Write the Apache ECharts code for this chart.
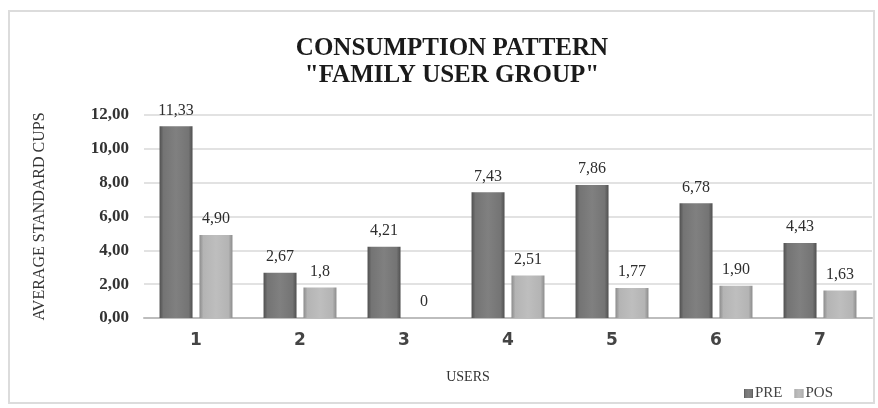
<!DOCTYPE html>
<html>
<head>
<meta charset="utf-8">
<script src="https://cdn.jsdelivr.net/npm/echarts@6/dist/echarts.min.js"></script>
<style>
  html, body { margin: 0; padding: 0; background: #ffffff; }
  #chart { width: 878px; height: 408px; }
</style>
</head>
<body>
<div id="chart"></div>
<script>
// Users on the category axis
const users = ['1', '2', '3', '4', '5', '6', '7'];
// Average standard cups, as printed on the bars (comma decimals)
const preLabels = ['11,33', '2,67', '4,21', '7,43', '7,86', '6,78', '4,43'];
const posLabels = ['4,90', '1,8', '0', '2,51', '1,77', '1,90', '1,63'];
// Value axis ticks
const yTicks = [0, 2, 4, 6, 8, 10, 12];

const toNum = s => parseFloat(s.replace(',', '.'));
const preValues = preLabels.map(toNum);
const posValues = posLabels.map(toNum);

const serif = '"Liberation Serif", "DejaVu Serif", serif';

// Cylinder-like shading across each bar
function barGradient(edge, mid, light) {
  return new echarts.graphic.LinearGradient(0, 0, 1, 0, [
    { offset: 0, color: edge },
    { offset: 0.12, color: mid },
    { offset: 0.5, color: light },
    { offset: 0.88, color: mid },
    { offset: 1, color: edge }
  ]);
}

function makeData(values, labels) {
  return values.map((v, i) => ({ value: v, label: { formatter: labels[i] } }));
}

const valueLabel = {
  show: true,
  position: 'top',
  distance: 8,
  fontFamily: serif,
  fontSize: 16,
  color: '#2e2e2e'
};

const chart = echarts.init(document.getElementById('chart'), null, { renderer: 'canvas' });

chart.setOption({
  backgroundColor: '#ffffff',
  animation: false,
  title: {
    text: 'CONSUMPTION PATTERN\n"FAMILY USER GROUP"',
    left: 447,
    top: 30,
    textAlign: 'center',
    textStyle: {
      fontFamily: serif,
      fontWeight: 'bold',
      fontSize: 25,
      lineHeight: 27,
      color: '#1a1a1a'
    }
  },
  legend: {
    right: 40,
    top: 381,
    itemWidth: 9,
    itemHeight: 9,
    itemGap: 12,
    icon: 'rect',
    textStyle: { fontFamily: serif, fontSize: 15, color: '#444', padding: [0, 0, 0, -3] },
    data: ['PRE', 'POS']
  },
  graphic: [{
    type: 'rect',
    shape: { x: 9, y: 11, width: 865, height: 392 },
    style: { fill: 'none', stroke: '#dcdcdc', lineWidth: 2 },
    silent: true,
    z: -1
  }],
  grid: { left: 144, right: 6, top: 115, bottom: 90 },
  xAxis: {
    type: 'category',
    data: users,
    name: 'USERS',
    nameLocation: 'middle',
    nameGap: 52,
    nameTextStyle: { fontFamily: serif, fontSize: 14, color: '#333', padding: [0, 80, 0, 0] },
    axisLine: { lineStyle: { color: '#bdbdbd', width: 2 } },
    axisTick: { show: false },
    axisLabel: {
      margin: 14,
      fontFamily: '"DejaVu Sans", sans-serif',
      fontWeight: 'bold',
      fontSize: 17,
      color: '#444'
    }
  },
  yAxis: {
    type: 'value',
    min: 0,
    max: 12,
    interval: 2,
    name: 'AVERAGE STANDARD CUPS',
    nameLocation: 'middle',
    nameGap: 96,
    nameRotate: 90,
    nameTextStyle: { fontFamily: serif, fontSize: 16, color: '#333' },
    axisLine: { show: false },
    axisTick: { show: false },
    splitLine: { lineStyle: { color: '#d9d9d9', width: 1.5 } },
    axisLabel: {
      margin: 15,
      fontFamily: serif,
      fontWeight: 'bold',
      fontSize: 17,
      color: '#333',
      customValues: yTicks,
      formatter: v => v.toFixed(2).replace('.', ',')
    }
  },
  series: [
    {
      name: 'PRE',
      type: 'bar',
      barWidth: 33,
      barGap: '21%',
      data: makeData(preValues, preLabels),
      itemStyle: { color: barGradient('#505050', '#747474', '#808080') },
      label: valueLabel
    },
    {
      name: 'POS',
      type: 'bar',
      barWidth: 33,
      data: makeData(posValues, posLabels),
      itemStyle: { color: barGradient('#8c8c8c', '#b4b4b4', '#bebebe') },
      label: valueLabel
    }
  ]
});
</script>
</body>
</html>
